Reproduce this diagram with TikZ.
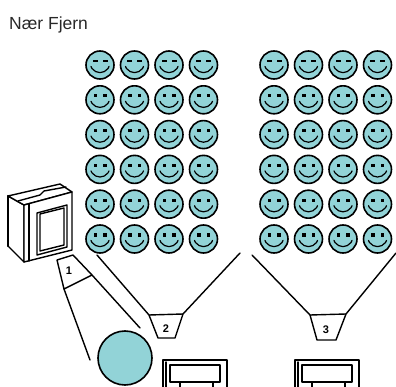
\documentclass[tikz,border=0pt]{standalone}
\usepackage{fontspec}
\setmainfont{Liberation Sans}
\definecolor{facecyan}{RGB}{146,211,215}
\definecolor{titlegray}{RGB}{40,40,40}
\tikzset{
  ink/.style={line width=1.4pt, line join=round, line cap=round},
  face/.style={ink, line width=1.6pt, fill=facecyan},
  lens/.style={ink, fill=white},
  tag/.style={font=\fontsize{11}{11}\selectfont\bfseries, inner sep=0pt},
  pics/smiley/.style={code={
    \draw[face] (0,0) circle (14);
    \draw[ink, line width=1.2pt] (-9,1.5) -- (-8,3.5)
      .. controls (-4,9) and (4,9) .. (8,3.5) -- (9,1.5);
  }}
}
\begin{document}
\begin{tikzpicture}[x=1pt,y=-1pt]
\useasboundingbox (0,0) rectangle (396,387);

% title
\node[anchor=base west, font=\fontsize{17.5}{20}\selectfont, text=titlegray, inner sep=0pt]
  (title) at (9,30) {Nær Fjern};

% two blocks of faces, four columns by six rows each
\foreach \y [count=\r] in {65,99.8,134.6,169.4,204.2,239}{
  \foreach \x in {100,134.5,169,203.5,274,308.5,343,377.5}{
    \pic at (\x,\y) {smiley};
    \ifnum\r=1
      \fill (\x-7.5,\y-4.5) rectangle ++(5,2);
      \fill (\x+2.5,\y-4.5) rectangle ++(5,2);
    \else
      \fill (\x-6.5,\y-5.5) rectangle ++(3.5,3.2);
      \fill (\x+3,\y-5.5) rectangle ++(3.5,3.2);
    \fi
  }
}

% monitor seen from the side
\draw[ink, fill=white] (8,196) -- (24,205) -- (24,262) -- (8,246) -- cycle;
\draw[ink, fill=white] (8,196) -- (60,184) -- (72,192) -- (24,205) -- cycle;
\draw[ink] (18,201) -- (40,195) -- (44,191) -- (66,187);
\draw[ink, fill=white] (24,205) -- (72,192) -- (72,250) -- (24,262) -- cycle;
\draw[ink] (29,204) -- (29,261);
\draw[ink] (37,213) -- (67,205) -- (67,247) -- (37,255) -- cycle;
\draw[ink] (40,214) -- (64,208) -- (64,245) -- (40,251) -- cycle;
\draw[ink, line width=2.2pt] (8,196) -- (8,246);

% projector 1 with its beam onto the round screen
\coordinate (p1a) at (57,260);
\coordinate (p1b) at (73,255);
\coordinate (p1c) at (92,275);
\coordinate (p1d) at (64,289);
\coordinate (b1l) at (90,360);
\coordinate (b1r) at (140,328);
\draw[lens] (p1a) -- (p1b) -- (p1c) -- (p1d) -- cycle;
\node[tag] (n1) at (69,271) {1};
\draw[ink] (p1d) -- (b1l);
\draw[ink] (p1c) -- (b1r);
\draw[face] (125,358) circle (27);

% projector 2 and its beam
\coordinate (p2a) at (149,315);
\coordinate (p2b) at (183,314);
\coordinate (p2c) at (175,338);
\coordinate (p2d) at (158,338);
\coordinate (b2l) at (97,255);
\coordinate (b2r) at (240,253);
\draw[ink] (b2l) -- (p2a);
\draw[ink] (b2r) -- (p2b);
\draw[lens] (p2a) -- (p2b) -- (p2c) -- (p2d) -- cycle;
\node[tag] (n2) at (166,329) {2};

% projector 3 and its beam
\coordinate (p3a) at (310,315);
\coordinate (p3b) at (346,314);
\coordinate (p3c) at (336,340);
\coordinate (p3d) at (317,340);
\coordinate (b3l) at (252,255);
\coordinate (b3r) at (396,253);
\draw[ink] (b3l) -- (p3a);
\draw[ink] (b3r) -- (p3b);
\draw[lens] (p3a) -- (p3b) -- (p3c) -- (p3d) -- cycle;
\node[tag] (n3) at (326,330) {3};

% monitors at the bottom edge
\foreach \mx in {163,295}{
  \draw[ink] (\mx,389) |- (\mx+64,360) -- (\mx+64,389);
  \draw[ink] (\mx+3,389) -- (\mx+3,362);
  \draw[ink] (\mx+7,365) rectangle (\mx+57,382);
  \draw[ink] (\mx+17,382) -- (\mx+17,389);
  \draw[ink] (\mx+50,382) -- (\mx+50,389);
}
\end{tikzpicture}
\end{document}
